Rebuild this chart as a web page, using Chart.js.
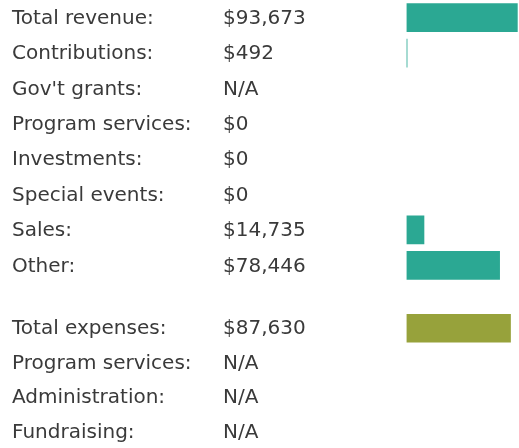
<!DOCTYPE html>
<html lang="en">
<head>
  <meta charset="UTF-8">
  <title>Revenue and expenses</title>
  <script src="https://cdn.jsdelivr.net/npm/chart.js"></script>
  <style>
    html, body { margin: 0; padding: 0; background: #fff; overflow: hidden; }
    body { width: 519px; height: 448px; position: relative; }
    .box { position: absolute; left: 0; width: 519px; }
    #revBox { top: 0; height: 283px; }
    #expBox { top: 311px; height: 138px; }
  </style>
</head>
<body>
  <div class="box" id="revBox"><canvas id="revChart"></canvas></div>
  <div class="box" id="expBox"><canvas id="expChart"></canvas></div>

  <script>
    // adatok
    const revenueLabels = ['Total revenue:', 'Contributions:', "Gov't grants:", 'Program services:',
      'Investments:', 'Special events:', 'Sales:', 'Other:'];
    const revenueValues = [93673, 492, null, 0, 0, 0, 14735, 78446];

    const expenseLabels = ['Total expenses:', 'Program services:', 'Administration:', 'Fundraising:'];
    const expenseValues = [87630, null, null, null];

    const maxValue = Math.max(...revenueValues, ...expenseValues);

    const fmt = v => v === null ? 'N/A' : '$' + v.toLocaleString('en-US');

    // szöveg oszlopok kirajzolása a sorok mellé
    const rowText = {
      id: 'rowText',
      afterDraw(chart) {
        const ctx = chart.ctx;
        const y = chart.scales.y;
        const vals = chart.data.datasets[0].data;
        ctx.save();
        ctx.font = '20px "DejaVu Sans", sans-serif';
        ctx.fillStyle = '#3a3a3a';
        ctx.textBaseline = 'middle';
        ctx.textAlign = 'left';
        chart.data.labels.forEach((lab, i) => {
          const py = y.getPixelForValue(i) + 1;
          ctx.fillText(lab, 12, py);
          ctx.fillText(fmt(vals[i]), 223, py);
        });
        ctx.restore();
      }
    };

    function makeChart(id, labels, values, color) {
      return new Chart(document.getElementById(id), {
        type: 'bar',
        data: {
          labels: labels,
          datasets: [{
            data: values,
            // nulla értéknél ne maradjon halvány csík
            backgroundColor: c => c.raw ? color : 'rgba(0,0,0,0)',
            barThickness: 28
          }]
        },
        options: {
          indexAxis: 'y',
          responsive: true,
          maintainAspectRatio: false,
          animation: false,
          layout: { padding: { left: 406.5, right: 1.3, top: 0, bottom: 0 } },
          plugins: { legend: { display: false }, tooltip: { enabled: false } },
          scales: {
            x: { display: false, min: 0, max: maxValue },
            y: { display: false }
          }
        },
        plugins: [rowText]
      });
    }

    makeChart('revChart', revenueLabels, revenueValues, '#2ba893');
    makeChart('expChart', expenseLabels, expenseValues, '#97a23b');
  </script>
</body>
</html>
